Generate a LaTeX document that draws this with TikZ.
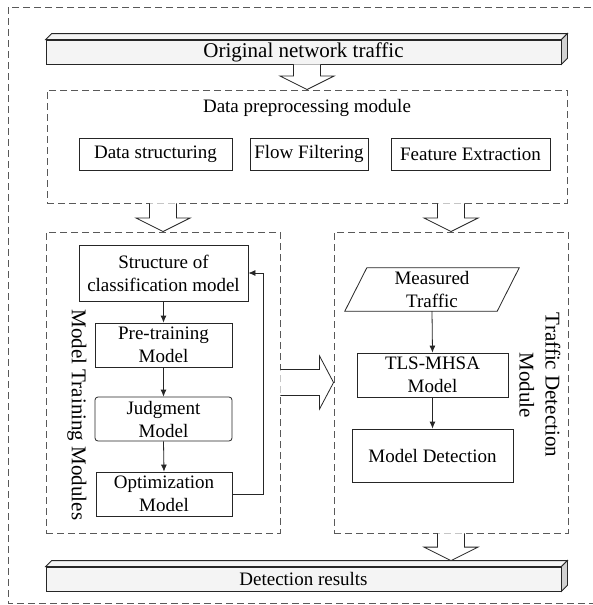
\documentclass[tikz,border=0pt]{standalone}
\usepackage{fontspec}
\setmainfont{Liberation Serif}
\usetikzlibrary{calc,arrows.meta}
\tikzset{
 box/.style={draw=black!85, line width=0.8pt, fill=white, align=center, inner sep=0pt, font=\fontsize{19}{23}\selectfont},
 plain/.style={align=center, inner sep=0pt, font=\fontsize{19}{23}\selectfont},
 dbox/.style={draw=black!65, line width=0.9pt, dash pattern=on 7pt off 4pt, inner sep=0pt},
 blk/.style={draw=black!85, line width=0.8pt, fill=white, line join=miter},
 conn/.style={draw=black!85, line width=0.8pt, -{Latex[length=7pt,width=6pt]}},
 bar/.style={draw=black!85, line width=0.8pt, fill=gray!9, inner sep=0pt, minimum width=515pt, minimum height=24pt},
 barside/.style={draw=black!85, line width=0.8pt, fill=gray!35},
 rot/.style={rotate=-90, font=\fontsize{21}{26}\selectfont, align=center, inner sep=0pt},
}
\newcommand{\blkdown}[2]{\draw[blk] let \p1=#1, \p2=#2 in (\x1-13.5pt,\y1) -- (\x1-13.5pt,\y2+13.5pt) -- (\x1-27pt,\y2+13.5pt) -- (\x1,\y2) -- (\x1+27pt,\y2+13.5pt) -- (\x1+13.5pt,\y2+13.5pt) -- (\x1+13.5pt,\y1);}
\newcommand{\blkright}[2]{\draw[blk] let \p1=#1, \p2=#2 in (\x1,\y1-13pt) -- (\x2-14pt,\y1-13pt) -- (\x2-14pt,\y1-26.5pt) -- (\x2,\y1) -- (\x2-14pt,\y1+26.5pt) -- (\x2-14pt,\y1+13pt) -- (\x1,\y1+13pt);}
\begin{document}
\begin{tikzpicture}[x=1pt,y=-1pt]
\clip (0,0) rectangle (593,605);
\fill[white] (0,0) rectangle (593,605);
% outer frame
\draw[dbox] (8,7) rectangle (600,603);
% top bar
\node[bar, font=\fontsize{21}{25}\selectfont] (bar1) at (303.5,52) {Original network traffic};
\draw[bar] (bar1.north west) -- ++(6,-6) -- ($(bar1.north east)+(6,-6)$) -- (bar1.north east) -- cycle;
\draw[barside] (bar1.north east) -- ++(6,-6) -- ($(bar1.south east)+(6,-6)$) -- (bar1.south east) -- cycle;
% preprocessing module
\node[dbox, minimum width=520pt, minimum height=113pt] (prep) at (307,146.5) {};
\node[plain] (preptitle) at (307,108) {Data preprocessing module};
\node[box, minimum width=153pt, minimum height=32pt] (ds) at (155.5,154) {Data structuring};
\node[box, minimum width=118pt, minimum height=32pt] (ff) at (309,154) {Flow Filtering};
\node[box, minimum width=159pt, minimum height=32pt] (fe) at (470.5,154) {Feature Extraction};
% training module
\node[dbox, minimum width=234pt, minimum height=301pt] (train) at (163,382.5) {};
\node[rot] (trainlbl) at (77,415) {Model Training Modules};
\node[box, minimum width=169pt, minimum height=56pt] (s1) at (163.5,273) {Structure of\\classification model};
\node[box, minimum width=137pt, minimum height=44pt] (s2) at (163.5,345) {Pre-training\\Model};
\node[box, rounded corners=3pt, minimum width=137pt, minimum height=44pt] (s3) at (163.5,419) {Judgment\\Model};
\node[box, minimum width=136pt, minimum height=44pt] (s4) at (164,494) {Optimization\\Model};
\draw[conn] (s1.south) -- (s2.north);
\draw[conn] (s2.south) -- (s3.north);
\draw[conn] (s3.south) -- (s4.north);
\draw[conn] (s4.east) -- ++(31,0) |- (s1.east);
% detection module
\node[dbox, minimum width=234pt, minimum height=301pt] (det) at (451,382.5) {};
\node[rot] (detlbl) at (540,385) {Traffic Detection\\Module};
\node[plain, minimum width=130pt, minimum height=43pt] (mt) at (432,289.5) {Measured\\Traffic};
\draw[box, fill=none] ($(mt.south west)+(-22,0)$) -- (mt.north west) -- ($(mt.north east)+(22,0)$) -- (mt.south east) -- cycle;
\node[box, minimum width=151pt, minimum height=44pt] (tls) at (432.5,375) {TLS-MHSA\\Model};
\node[box, minimum width=161pt, minimum height=53pt] (md) at (432.5,455.5) {Model Detection};
\draw[conn] (mt.south) -- (tls.north);
\draw[conn] (tls.south) -- (md.north);
% bottom bar
\node[bar, font=\fontsize{19}{23}\selectfont] (bar2) at (303.5,579) {Detection results};
\draw[bar] (bar2.north west) -- ++(6,-6) -- ($(bar2.north east)+(6,-6)$) -- (bar2.north east) -- cycle;
\draw[barside] (bar2.north east) -- ++(6,-6) -- ($(bar2.south east)+(6,-6)$) -- (bar2.south east) -- cycle;
\coordinate (bar2top) at ($(det.south |- bar2.north)+(0,-6)$);
% block arrows
\blkdown{(prep.north |- bar1.south)}{(prep.north)}
\blkdown{(train.north |- prep.south)}{(train.north)}
\blkdown{(det.north |- prep.south)}{(det.north)}
\blkright{(train.east)}{(det.west)}
\blkdown{(det.south)}{(bar2top)}
\end{tikzpicture}
\end{document}
